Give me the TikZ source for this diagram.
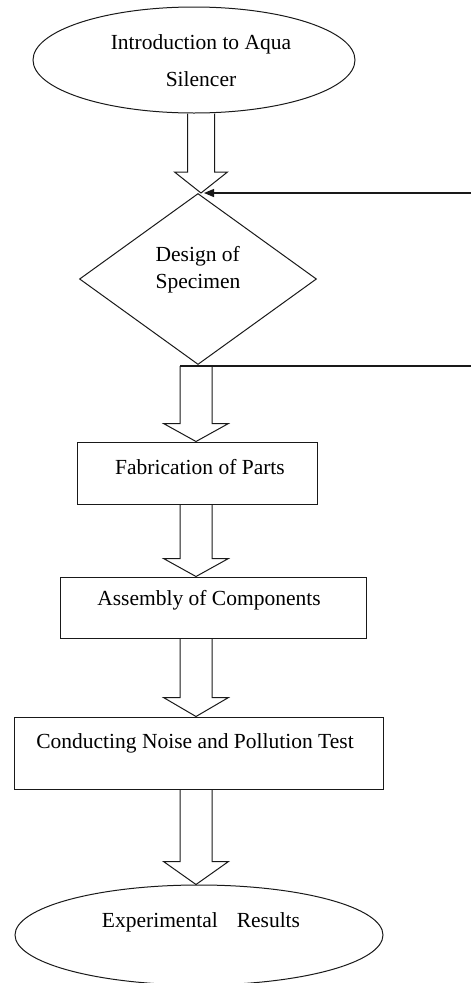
\documentclass[tikz,border=0pt]{standalone}
\usepackage{fontspec}
\setmainfont{Liberation Serif}
\usetikzlibrary{shapes.geometric,arrows.meta,calc}
% #1 from anchor, #2 to anchor, #3 centre x, #4 half shaft, #5 half head, #6 head length
\newcommand\blockarr[6]{%
  \draw[blkarrow] let \p1=(#1), \p2=(#2) in
    ({(#3-#4)*1pt},\y1) -- ({(#3-#4)*1pt},{\y2+#6*1pt}) -- ({(#3-#5)*1pt},{\y2+#6*1pt})
    -- ({#3*1pt},\y2) -- ({(#3+#5)*1pt},{\y2+#6*1pt}) -- ({(#3+#4)*1pt},{\y2+#6*1pt})
    -- ({(#3+#4)*1pt},\y1);}
\begin{document}
\begin{tikzpicture}[x=1pt,y=-1pt,
  shapeline/.style={draw=black!90,line width=1pt,inner sep=0pt},
  ell/.style={shapeline,ellipse},
  dia/.style={shapeline,diamond},
  box/.style={shapeline,rectangle},
  blkarrow/.style={draw=black!90,line width=1pt,line join=miter},
  txt/.style={inner sep=0pt,align=center,font=\fontsize{21.5}{26}\selectfont},
  fb/.style={draw=black!90,line width=1.2pt}]
\useasboundingbox (0,0) rectangle (471,983);
% shapes
\node[ell,minimum width=322pt,minimum height=106pt] (intro) at (194,60) {};
\node[dia,minimum width=237pt,minimum height=171pt] (des) at (198,279) {};
\node[box,minimum width=240pt,minimum height=62pt] (fab) at (197,473) {};
\node[box,minimum width=306pt,minimum height=61pt] (asm) at (213,607.5) {};
\node[box,minimum width=369pt,minimum height=72pt] (cond) at (198.5,753) {};
\node[ell,minimum width=368pt,minimum height=100pt] (res) at (199,935) {};
% texts
\node[txt,font=\fontsize{21.5}{37}\selectfont] (tintro) at (201,61) {Introduction to Aqua\\Silencer};
\node[txt,font=\fontsize{21.5}{27}\selectfont,align=left] (tdes) at (198,270) {Design of\\Specimen};
\node[txt] (tfab) at (200,467) {Fabrication of Parts};
\node[txt] (tasm) at (209,600) {Assembly of Components};
\node[txt] (tcond) at (195,743) {Conducting Noise and Pollution Test};
\node[txt] (tres) at (201,922) {Experimental\hspace{19pt}Results};
% feedback lines
\coordinate (fbin) at (471,193);
\coordinate (fbtip) at (204,193);
\coordinate (fbout) at (471,366);
\coordinate (a2top) at (196,366);
\coordinate (a2left) at (180,366);
\draw[fb,-{Triangle[length=10pt,width=8pt]}] (fbin) -- (fbtip);
\draw[fb] (a2left) -- (fbout);
% block arrows
\blockarr{intro.south}{des.north}{201}{13.5}{26.5}{21}
\blockarr{a2top}{fab.north}{196}{16}{32.5}{18}
\blockarr{fab.south}{asm.north}{196}{16}{32.5}{18}
\blockarr{asm.south}{cond.north}{196}{16}{32.5}{19}
\blockarr{cond.south}{res.north}{196}{16}{32.5}{23}
\end{tikzpicture}
\end{document}
